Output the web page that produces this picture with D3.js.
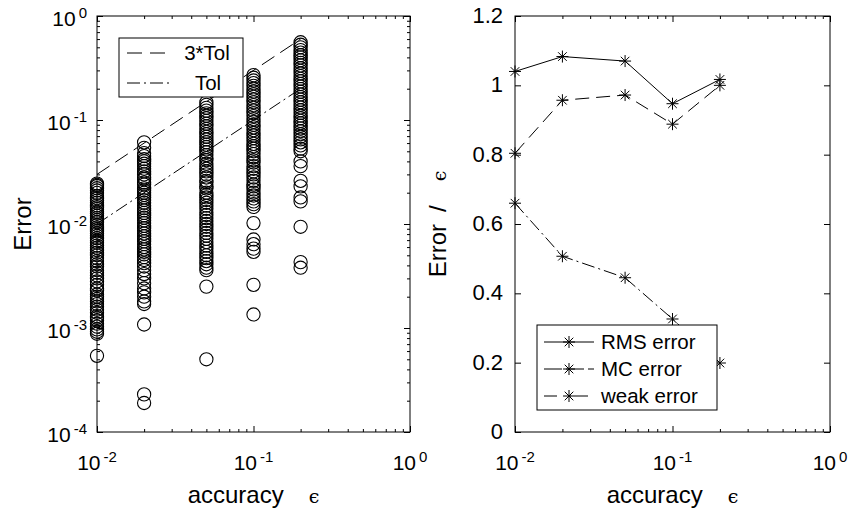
<!DOCTYPE html>
<html><head><meta charset="utf-8">
<script src="https://cdn.jsdelivr.net/npm/d3@7"></script>
<style>
html,body{margin:0;padding:0;background:#fff;}
text{font-family:"Liberation Sans",Arial,Helvetica,sans-serif;fill:#000;}
</style></head>
<body><svg id="c" width="849" height="516"></svg>
<script>
// ---------- data ----------
const eps = [0.01, 0.02, 0.05, 0.1, 0.2];
const err001 = [0.0245,0.0238,0.0232,0.0221,0.0210,0.0199,0.0186,0.0177,0.0168,0.0160,0.0151,0.0145,0.0139,0.0131,0.0126,0.0120,0.0114,0.0109,0.0104,0.0098,0.0093,0.0089,0.0085,0.0081,0.0077,0.0073,0.0069,0.0066,0.0062,0.0059,0.0056,0.0053,0.0050,0.0047,0.0044,0.0041,0.0039,0.0036,0.0034,0.0032,0.0030,0.0028,0.0026,0.0024,0.0023,0.0021,0.0020,0.0019,0.0018,0.0017,0.0016,0.0015,0.0014,0.0013,0.00125,0.00118,0.00110,0.00103,0.00097,0.00092,0.00088,0.00054];
const err002 = [0.061,0.054,0.048,0.045,0.042,0.040,0.038,0.036,0.034,0.032,0.030,0.028,0.027,0.025,0.024,0.022,0.021,0.020,0.019,0.018,0.017,0.016,0.015,0.0142,0.0135,0.0128,0.0121,0.0115,0.0108,0.0102,0.0096,0.0091,0.0086,0.0081,0.0076,0.0072,0.0068,0.0064,0.0060,0.0057,0.0054,0.0051,0.0048,0.0045,0.0042,0.0039,0.0036,0.0033,0.0030,0.0027,0.0024,0.0022,0.0020,0.0018,0.0017,0.00108,0.00023,0.00019];
const err005 = [0.148,0.140,0.131,0.123,0.116,0.110,0.104,0.098,0.092,0.087,0.082,0.077,0.073,0.069,0.065,0.061,0.058,0.055,0.052,0.049,0.046,0.043,0.041,0.038,0.036,0.034,0.032,0.030,0.028,0.026,0.025,0.023,0.022,0.020,0.019,0.018,0.017,0.016,0.015,0.014,0.013,0.0122,0.0114,0.0107,0.0100,0.0094,0.0088,0.0082,0.0077,0.0072,0.0067,0.0062,0.0058,0.0054,0.0050,0.0047,0.0044,0.0041,0.0038,0.0036,0.0025,0.00050];
const err01 = [0.270,0.255,0.240,0.226,0.213,0.200,0.188,0.177,0.167,0.157,0.148,0.139,0.131,0.123,0.116,0.109,0.102,0.096,0.090,0.085,0.080,0.075,0.071,0.067,0.063,0.059,0.056,0.053,0.050,0.047,0.044,0.041,0.039,0.036,0.034,0.032,0.030,0.028,0.026,0.024,0.023,0.0215,0.020,0.0188,0.0176,0.0165,0.0155,0.0146,0.0102,0.0071,0.0064,0.0058,0.0054,0.0026,0.00135];
const err02 = [0.56,0.53,0.50,0.47,0.445,0.42,0.40,0.375,0.355,0.335,0.315,0.297,0.280,0.264,0.249,0.235,0.222,0.210,0.198,0.187,0.176,0.166,0.157,0.148,0.140,0.132,0.124,0.117,0.110,0.104,0.098,0.093,0.088,0.083,0.078,0.073,0.069,0.065,0.061,0.057,0.053,0.050,0.040,0.036,0.026,0.023,0.018,0.0165,0.0094,0.0043,0.0038];
const tolX = [0.01, 0.2];
const tol3Y = [0.03, 0.6];
const tolY = [0.01, 0.2];
const rmsError = [1.04, 1.083, 1.07, 0.947, 1.017];
const mcError = [0.804, 0.957, 0.972, 0.888, 1.0];
const weakError = [0.66, 0.507, 0.445, 0.326, 0.199];
const xTickVals = [0.01, 0.1, 1];
const xTickExp = ["-2", "-1", "0"];
const yLogTickVals = [1e-4, 1e-3, 1e-2, 1e-1, 1];
const yLogTickExp = ["-4", "-3", "-2", "-1", "0"];
const yLinTickVals = [0, 0.2, 0.4, 0.6, 0.8, 1, 1.2];
const yLinTickLabels = ["0", "0.2", "0.4", "0.6", "0.8", "1", "1.2"];

// ---------- setup ----------
const svg = d3.select("#c");
svg.append("rect").attr("width",849).attr("height",516).attr("fill","#fff");
const T = 16, B = 432;
const L1 = 97, R1 = 410, L2 = 515, R2 = 830;
const x1 = d3.scaleLog().domain([0.01,1]).range([L1,R1]);
const y1 = d3.scaleLog().domain([1e-4,1]).range([B,T]);
const x2 = d3.scaleLog().domain([0.01,1]).range([L2,R2]);
const y2 = d3.scaleLinear().domain([0,1.2]).range([B,T]);

function minorLog(lo, hi){ const r=[]; for(let d=lo; d<hi; d*=10){ for(let k=2;k<=9;k++) r.push(+(k*d).toPrecision(3)); } return r; }
const xMinor = minorLog(0.01, 1);
const yMinor = minorLog(1e-4, 1);

const MAJ = 6, MIN = 3;
function styleAxis(g){ g.select(".domain").remove(); g.selectAll("line").attr("stroke","#000").attr("stroke-width",1); g.selectAll("text").remove(); }

function frame(xs, ys, L, R, yMinorVals, yMajorVals){
  const f = svg.append("g");
  f.append("g").attr("transform",`translate(0,${B})`).call(d3.axisBottom(xs).tickValues(xTickVals).tickSize(-MAJ)).call(styleAxis);
  f.append("g").attr("transform",`translate(0,${B})`).call(d3.axisBottom(xs).tickValues(xMinor).tickSize(-MIN)).call(styleAxis);
  f.append("g").attr("transform",`translate(0,${T})`).call(d3.axisTop(xs).tickValues(xTickVals).tickSize(-MAJ)).call(styleAxis);
  f.append("g").attr("transform",`translate(0,${T})`).call(d3.axisTop(xs).tickValues(xMinor).tickSize(-MIN)).call(styleAxis);
  f.append("g").attr("transform",`translate(${L},0)`).call(d3.axisLeft(ys).tickValues(yMajorVals).tickSize(-MAJ)).call(styleAxis);
  f.append("g").attr("transform",`translate(${R},0)`).call(d3.axisRight(ys).tickValues(yMajorVals).tickSize(-MAJ)).call(styleAxis);
  if (yMinorVals){
    f.append("g").attr("transform",`translate(${L},0)`).call(d3.axisLeft(ys).tickValues(yMinorVals).tickSize(-MIN)).call(styleAxis);
    f.append("g").attr("transform",`translate(${R},0)`).call(d3.axisRight(ys).tickValues(yMinorVals).tickSize(-MIN)).call(styleAxis);
  }
  f.append("rect").attr("x",L).attr("y",T).attr("width",R-L).attr("height",B-T)
    .attr("fill","none").attr("stroke","#000").attr("stroke-width",1);
  // x tick labels
  xTickVals.forEach((v,i)=>{
    const t = f.append("text").attr("x",xs(v)).attr("y",470).attr("text-anchor","middle").style("font-size","21px");
    t.append("tspan").text("10");
    t.append("tspan").attr("dx",3).attr("dy",-8).style("font-size","15px").text(xTickExp[i]);
  });
  // x axis title
  const xt = f.append("text").attr("x",(L+R)/2).attr("y",503).attr("text-anchor","middle").style("font-size","24px");
  xt.append("tspan").text("accuracy");
  xt.append("tspan").attr("dx",25).style("font-family","'DejaVu Serif',serif").style("font-size","19px").text("\u03F5");
  return f;
}

// ---------- left plot ----------
frame(x1, y1, L1, R1, yMinor, yLogTickVals);
yLogTickVals.forEach((v,i)=>{
  const t = svg.append("text").attr("x",87).attr("y",y1(v)+10).attr("text-anchor","end").style("font-size","21px");
  t.append("tspan").text("10");
  t.append("tspan").attr("dx",3).attr("dy",-8).style("font-size","15px").text(yLogTickExp[i]);
});
svg.append("text").attr("transform",`translate(31,${(T+B)/2}) rotate(-90)`).attr("text-anchor","middle").style("font-size","24px").text("Error");

const cols = [err001, err002, err005, err01, err02];
const pts = [];
cols.forEach((arr,i)=>arr.forEach(v=>pts.push({x:eps[i], y:v})));
svg.append("g").selectAll("circle").data(pts).join("circle")
  .attr("cx",d=>x1(d.x)).attr("cy",d=>y1(d.y)).attr("r",6.6)
  .attr("fill","none").attr("stroke","#000").attr("stroke-width",1.1);

const line1 = d3.line().x(d=>x1(d[0])).y(d=>y1(d[1]));
svg.append("path").attr("d",line1(tolX.map((x,i)=>[x,tol3Y[i]]))).attr("fill","none").attr("stroke","#000").attr("stroke-dasharray","15,7");
svg.append("path").attr("d",line1(tolX.map((x,i)=>[x,tolY[i]]))).attr("fill","none").attr("stroke","#000").attr("stroke-dasharray","13,4,2,4");

// left legend
const lg = svg.append("g");
lg.append("rect").attr("x",119).attr("y",38).attr("width",124).attr("height",59).attr("fill","#fff").attr("stroke","#000");
lg.append("line").attr("x1",127).attr("x2",166).attr("y1",53).attr("y2",53).attr("stroke","#000").attr("stroke-dasharray","15,8");
lg.append("line").attr("x1",127).attr("x2",173).attr("y1",83).attr("y2",83).attr("stroke","#000").attr("stroke-dasharray","13,4,2,4");
lg.append("text").attr("x",207).attr("y",60).attr("text-anchor","middle").style("font-size","20.5px").text("3*Tol");
lg.append("text").attr("x",208).attr("y",90).attr("text-anchor","middle").style("font-size","20.5px").text("Tol");

// ---------- right plot ----------
frame(x2, y2, L2, R2, null, yLinTickVals);
yLinTickVals.forEach((v,i)=>{
  svg.append("text").attr("x",503).attr("y",y2(v)+7).attr("text-anchor","end").style("font-size","22px").text(yLinTickLabels[i]);
});
const yt = svg.append("text").attr("transform",`translate(446,${(T+B)/2}) rotate(-90)`).attr("text-anchor","middle").style("font-size","24px");
yt.append("tspan").text("Error");
yt.append("tspan").attr("dx",12).text("/");
yt.append("tspan").attr("dx",24).style("font-family","'DejaVu Serif',serif").style("font-size","19px").text("\u03F5");

const star = "M-6,0H6M0,-6V6M-4.3,-4.3L4.3,4.3M-4.3,4.3L4.3,-4.3";
const series = [
  {vals: rmsError, dash: null, name: "RMS error"},
  {vals: mcError, dash: "14,7", name: "MC error"},
  {vals: weakError, dash: "13,4,2,4", name: "weak error"}
];
const line2 = d3.line().x(d=>x2(d[0])).y(d=>y2(d[1]));
series.forEach(s=>{
  const data = eps.map((e,i)=>[e, s.vals[i]]);
  svg.append("path").attr("d",line2(data)).attr("fill","none").attr("stroke","#000").attr("stroke-width",1)
    .attr("stroke-dasharray", s.dash);
  svg.append("g").selectAll("path").data(data).join("path")
    .attr("transform",d=>`translate(${x2(d[0])},${y2(d[1])})`).attr("d",star)
    .attr("stroke","#000").attr("stroke-width",1).attr("fill","none");
});

// right legend
const rg = svg.append("g");
rg.append("rect").attr("x",537).attr("y",325).attr("width",180).attr("height",85).attr("fill","#fff").attr("stroke","#000");
const rowY = [342, 369, 396];
const legDash = [null, "18,4", "13,12,2,4"];
series.forEach((s,i)=>{
  rg.append("line").attr("x1",544).attr("x2",594).attr("y1",rowY[i]).attr("y2",rowY[i]).attr("stroke","#000").attr("stroke-dasharray",legDash[i]);
  rg.append("path").attr("transform",`translate(569,${rowY[i]})`).attr("d",star).attr("stroke","#000").attr("fill","none");
  rg.append("text").attr("x",601).attr("y",rowY[i]+7).style("font-size","20.5px").text(s.name);
});
</script></body></html>
